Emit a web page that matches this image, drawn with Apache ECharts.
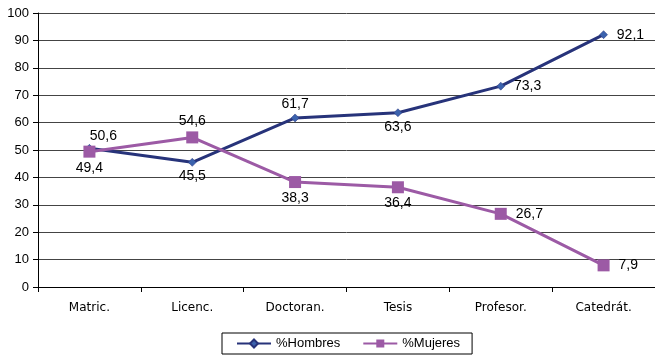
<!DOCTYPE html>
<html>
<head>
<meta charset="utf-8">
<script src="https://cdn.jsdelivr.net/npm/echarts@6/dist/echarts.min.js"></script>
<style>
  html, body { margin: 0; padding: 0; background: #fff; }
  #chart { width: 655px; height: 356px; }
</style>
</head>
<body>
<div id="chart"></div>
<script>
// categories and values
const categories = ['Matric.', 'Licenc.', 'Doctoran.', 'Tesis', 'Profesor.', 'Catedrát.'];
const hombres = [50.6, 45.5, 61.7, 63.6, 73.3, 92.1];
const mujeres = [49.4, 54.6, 38.3, 36.4, 26.7, 7.9];
// where each label sits, per point
const hombresPos = ['top', 'bottom', 'top', 'bottom', 'right', 'right'];
const mujeresPos = ['bottom', 'top', 'bottom', 'bottom', 'right', 'right'];

const fmt = v => String(v).replace('.', ',');

function withLabels(values, positions) {
  return values.map((v, i) => {
    let pos = positions[i];
    let offset = [0, 0];
    if (pos === 'top' && i === 0) offset = [14, 2];
    return {
      value: v,
      label: { position: pos, offset: offset, distance: pos === 'right' ? 9 : 3 }
    };
  });
}

const chart = echarts.init(document.getElementById('chart'));
chart.setOption({
  animation: false,
  grid: { left: 38, right: 0, top: 13, bottom: 69 },
  legend: {
    bottom: 2,
    left: 222,
    itemWidth: 34,
    itemHeight: 10,
    itemGap: 22,
    padding: [4, 12, 4, 14],
    borderColor: '#000',
    borderWidth: 1,
    borderRadius: 0,
    textStyle: { fontFamily: 'Liberation Sans', fontSize: 13, color: '#000' },
    data: ['%Hombres', '%Mujeres']
  },
  xAxis: {
    type: 'category',
    data: categories,
    boundaryGap: true,
    axisLine: { lineStyle: { color: '#000', width: 1 } },
    axisTick: { show: true, length: 5, lineStyle: { color: '#000' } },
    axisLabel: { fontFamily: 'DejaVu Sans', fontSize: 12, color: '#000', margin: 15 }
  },
  yAxis: {
    type: 'value',
    min: 0, max: 100, interval: 10,
    axisLine: { show: true, lineStyle: { color: '#000' } },
    axisTick: { show: true, length: 5, lineStyle: { color: '#000' } },
    axisLabel: { fontFamily: 'Liberation Sans', fontSize: 13, color: '#000', margin: 9 },
    splitLine: { lineStyle: { color: '#444', width: 1 } }
  },
  series: [
    {
      name: '%Hombres',
      type: 'line',
      data: withLabels(hombres, hombresPos),
      symbol: 'diamond',
      symbolSize: 8,
      lineStyle: { color: '#27337a', width: 3 },
      itemStyle: { color: '#3b62ad', borderColor: '#27337a', borderWidth: 0.5 },
      label: {
        show: true,
        fontFamily: 'Liberation Sans', fontSize: 14, color: '#000',
        formatter: p => fmt(p.value)
      },
      z: 3
    },
    {
      name: '%Mujeres',
      type: 'line',
      data: withLabels(mujeres, mujeresPos),
      symbol: 'rect',
      symbolSize: 12,
      lineStyle: { color: '#9c5aa5', width: 3 },
      itemStyle: { color: '#9c5aa5' },
      label: {
        show: true,
        fontFamily: 'Liberation Sans', fontSize: 14, color: '#000',
        formatter: p => fmt(p.value)
      },
      z: 4
    }
  ]
});
</script>
</body>
</html>
